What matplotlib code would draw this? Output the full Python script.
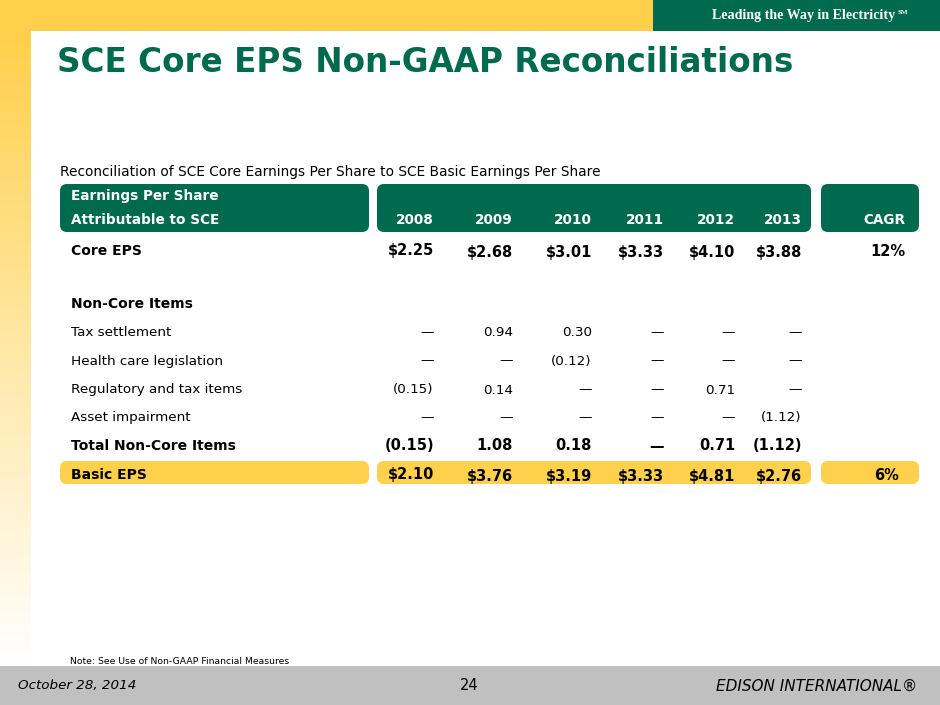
import numpy as np
import matplotlib.pyplot as plt
from matplotlib.patches import Rectangle, FancyBboxPatch
from matplotlib.colors import LinearSegmentedColormap

# ============= table data =============
years = ['2008', '2009', '2010', '2011', '2012', '2013']
core_eps = [2.25, 2.68, 3.01, 3.33, 4.10, 3.88]
tax_settlement = [None, 0.94, 0.30, None, None, None]
health_care = [None, None, -0.12, None, None, None]
regulatory_tax = [-0.15, 0.14, None, None, 0.71, None]
asset_impairment = [None, None, None, None, None, -1.12]
total_non_core = [-0.15, 1.08, 0.18, None, 0.71, -1.12]
basic_eps = [2.10, 3.76, 3.19, 3.33, 4.81, 2.76]
cagr_core = '12%'
cagr_basic = '6%'

GREEN = '#006A4E'
YELLOW = '#FFD04B'
GREY = '#C0C0C0'


def fmt(v, dollar=False):
    if v is None:
        return '\u2014'
    if dollar:
        return f'${v:.2f}'
    if v < 0:
        return f'({-v:.2f})'
    return f'{v:.2f}'


fig = plt.figure(figsize=(9.4, 7.05), dpi=100)
ax = fig.add_axes([0, 0, 1, 1])

# ============= slide frame =============
cmap = LinearSegmentedColormap.from_list('fade', [YELLOW, '#FFFFFF'])
grad = np.linspace(0, 1, 256).reshape(-1, 1)
ax.imshow(grad, extent=(0, 31, 666, 31), cmap=cmap, aspect='auto', origin='upper')
ax.add_patch(Rectangle((0, 0), 653, 31, color=YELLOW, lw=0))
ax.add_patch(Rectangle((653, 0), 287, 31, color=GREEN, lw=0))
ax.add_patch(Rectangle((0, 666), 940, 39, color=GREY, lw=0))

ax.text(895, 16, 'Leading the Way in Electricity', color='white', fontsize=10.1,
        fontweight='bold', family='Liberation Serif', ha='right', va='center')
ax.text(898, 12, 'SM', color='white', fontsize=5, fontweight='bold',
        family='Liberation Serif', ha='left', va='center')

ax.text(57, 63, 'SCE Core EPS Non-GAAP Reconciliations', color=GREEN,
        fontsize=23.5, fontweight='bold', ha='left', va='center')
ax.text(60, 172, 'Reconciliation of SCE Core Earnings Per Share to SCE Basic Earnings Per Share',
        fontsize=9.95, ha='left', va='center')

# ============= header and highlight boxes =============
def box(x0, x1, y0, y1, color):
    ax.add_patch(FancyBboxPatch((x0, y0), x1 - x0, y1 - y0,
                                boxstyle='round,pad=0,rounding_size=7',
                                fc=color, ec='none'))

for (x0, x1) in [(60, 369), (377, 811), (821, 919)]:
    box(x0, x1, 184, 232, GREEN)
    box(x0, x1, 461, 484, YELLOW)

col_x = [434, 513, 592, 664, 735, 802]
cagr_x = 905
label_x = 71

ax.text(label_x, 196, 'Earnings Per Share', color='white', fontsize=9.8,
        fontweight='bold', ha='left', va='center')
ax.text(label_x, 220, 'Attributable to SCE', color='white', fontsize=9.8,
        fontweight='bold', ha='left', va='center')
for x, yr in zip(col_x, years):
    ax.text(x, 220, yr, color='white', fontsize=9.8, fontweight='bold', ha='right', va='center')
ax.text(cagr_x, 220, 'CAGR', color='white', fontsize=9.8, fontweight='bold', ha='right', va='center')

# ============= table rows =============
rows = [
    ('Core EPS', 252, core_eps, True, True),
    ('Tax settlement', 333, tax_settlement, False, False),
    ('Health care legislation', 361, health_care, False, False),
    ('Regulatory and tax items', 390, regulatory_tax, False, False),
    ('Asset impairment', 418, asset_impairment, False, False),
    ('Total Non-Core Items', 446, total_non_core, True, False),
    ('Basic EPS', 476, basic_eps, True, True),
]
ax.text(label_x, 304, 'Non-Core Items', fontsize=10, fontweight='bold', ha='left', va='center')

for label, y, vals, bold, dollar in rows:
    w = 'bold' if bold else 'normal'
    ax.text(label_x, y - 1 if dollar else y, label, fontsize=10 if bold else 9.7,
            fontweight=w, ha='left', va='center')
    for i, (x, v) in enumerate(zip(col_x, vals)):
        # the 2008 column sits a touch higher on the slide
        yy = y - 2 if (i == 0 and dollar) else y
        ax.text(x, yy, fmt(v, dollar), fontsize=10.5 if bold else 9.7, fontweight=w,
                ha='right', va='center')

ax.text(cagr_x, 252, cagr_core, fontsize=10.5, fontweight='bold', ha='right', va='center')
ax.text(cagr_x - 6, 476, cagr_basic, fontsize=10.5, fontweight='bold', ha='right', va='center')

# ============= footer =============
ax.text(70, 661, 'Note: See Use of Non-GAAP Financial Measures', fontsize=6.65,
        ha='left', va='center')
ax.text(18, 686, 'October 28, 2014', fontsize=9.7, style='italic', ha='left', va='center')
ax.text(469, 686, '24', fontsize=10.5, ha='center', va='center')
ax.text(917, 686, 'EDISON INTERNATIONAL\u00ae', fontsize=11, style='italic',
        ha='right', va='center')

ax.set_xlim(0, 940)
ax.set_ylim(705, 0)
ax.axis('off')

fig.savefig('out.png', dpi=100)
